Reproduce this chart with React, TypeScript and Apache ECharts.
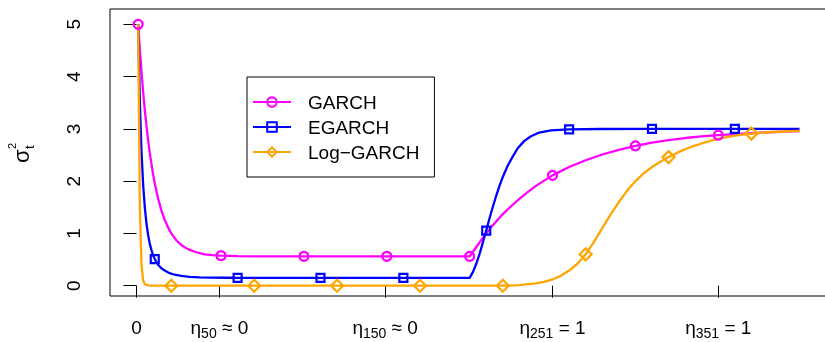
import React, { useEffect, useRef } from 'react';
import * as echarts from 'echarts';

// ---- data ----
const garchX = [1, 2, 3, 4, 5, 6, 7, 8, 9, 10, 11, 13, 15, 17, 19, 21, 24, 27, 31, 36, 41, 46, 51, 61, 81, 101, 151, 201, 203, 205, 207, 209, 211, 214, 217, 221, 226, 231, 236, 241, 246, 251, 261, 271, 281, 291, 301, 311, 321, 331, 341, 351, 366, 381, 400];
const garchY = [5.0, 4.52, 4.09, 3.71, 3.36, 3.06, 2.79, 2.54, 2.33, 2.13, 1.96, 1.67, 1.44, 1.26, 1.12, 1.0, 0.87, 0.78, 0.7, 0.64, 0.6, 0.585, 0.575, 0.565, 0.56, 0.56, 0.56, 0.56, 0.65, 0.74, 0.83, 0.92, 1.0, 1.12, 1.23, 1.37, 1.52, 1.66, 1.79, 1.91, 2.01, 2.11, 2.27, 2.4, 2.51, 2.6, 2.675, 2.735, 2.785, 2.825, 2.855, 2.88, 2.91, 2.935, 2.955];
const garchMarks = [1, 51, 101, 151, 201, 251, 301, 351];

const egarchX = [1, 2, 3, 4, 5, 6, 7, 8, 9, 10, 11, 13, 15, 17, 20, 23, 27, 32, 38, 45, 55, 61, 111, 161, 201, 203, 205, 207, 209, 211, 213, 215, 217, 219, 221, 224, 227, 230, 234, 238, 243, 250, 261, 280, 311, 361, 400];
const egarchY = [5.0, 3.52, 2.57, 1.93, 1.5, 1.19, 0.97, 0.8, 0.68, 0.58, 0.51, 0.4, 0.335, 0.29, 0.24, 0.21, 0.19, 0.17, 0.16, 0.155, 0.152, 0.15, 0.15, 0.15, 0.15, 0.265, 0.42, 0.61, 0.83, 1.055, 1.29, 1.51, 1.72, 1.91, 2.08, 2.3, 2.47, 2.63, 2.77, 2.86, 2.93, 2.97, 2.99, 2.998, 3.0, 3.0, 3.0];
const egarchMarks = [11, 61, 111, 161, 211, 261, 311, 361];

const logX = [1, 2, 3, 4, 5, 7, 10, 21, 71, 121, 171, 201, 221, 231, 236, 241, 246, 251, 256, 261, 266, 271, 276, 281, 286, 291, 296, 301, 306, 311, 316, 321, 326, 331, 336, 341, 346, 351, 361, 371, 381, 391, 400];
const logY = [5.0, 1.5, 0.4, 0.1, 0.03, 0.005, 0, 0, 0, 0, 0, 0, 0, 0.01, 0.03, 0.045, 0.075, 0.12, 0.19, 0.29, 0.42, 0.6, 0.84, 1.1, 1.36, 1.6, 1.82, 2.0, 2.15, 2.27, 2.37, 2.46, 2.54, 2.61, 2.67, 2.72, 2.77, 2.81, 2.87, 2.91, 2.935, 2.95, 2.96];
const logMarks = [21, 71, 121, 171, 221, 271, 321, 371];

const seriesNames = ['GARCH', 'EGARCH', 'Log\u2212GARCH'];
const seriesColors = ['#FF00FF', '#0000FF', '#FFA500'];

const xTickValues = [0, 50, 150, 251, 351];
const xTickSubs = ['', '50', '150', '251', '351'];
const xTickRel = ['0', '\u2248 0', '\u2248 0', '= 1', '= 1'];
const yTicks = [0, 1, 2, 3, 4, 5];

const FONT = '"Liberation Sans", Arial, Helvetica, sans-serif';

function buildData(xs: number[], ys: number[], marks: number[]) {
  return xs.map((x, i) =>
    marks.indexOf(x) >= 0 ? { value: [x, ys[i]] } : { value: [x, ys[i]], symbol: 'none' }
  );
}

export default function App() {
  const ref = useRef<HTMLDivElement>(null);
  useEffect(() => {
    const chart = echarts.init(ref.current as HTMLDivElement, null, { renderer: 'svg' });
    const mk = (idx: number, symbol: string, size: number, xs: number[], ys: number[], marks: number[]) => ({
      name: seriesNames[idx],
      type: 'line',
      data: buildData(xs, ys, marks),
      symbol,
      symbolSize: size,
      showSymbol: true,
      showAllSymbol: true,
      smooth: false,
      lineStyle: { color: seriesColors[idx], width: 2.3 },
      itemStyle: { color: 'rgba(255,255,255,0)', borderColor: seriesColors[idx], borderWidth: 2.2 },
      emphasis: { disabled: true },
    });
    chart.setOption({
      animation: false,
      textStyle: { fontFamily: FONT },
      grid: {
        left: 110, right: -1, top: 9, bottom: 46,
        outerBoundsMode: 'none',
        containLabel: false,
        show: true, borderColor: '#000', borderWidth: 1, backgroundColor: 'transparent',
      },
      legend: {
        orient: 'vertical',
        left: 247,
        top: 77,
        padding: [15, 15, 15, 5],
        itemGap: 5,
        itemWidth: 38,
        itemHeight: 12,
        borderColor: '#000',
        borderWidth: 1,
        selectedMode: false,
        data: seriesNames,
        textStyle: { fontFamily: FONT, fontSize: 19, color: '#000', lineHeight: 20, padding: [0, 0, 0, 12] },
      },
      xAxis: {
        type: 'value',
        min: -16,
        max: 416,
        axisLine: { show: false },
        splitLine: { show: false },
        axisTick: { show: true, customValues: xTickValues, length: 12, lineStyle: { color: '#000', width: 1 } },
        axisLabel: {
          customValues: xTickValues,
          margin: 18,
          color: '#000',
          formatter: (v: number) => {
            const i = xTickValues.indexOf(v);
            if (i < 0) return '';
            if (!xTickSubs[i]) return `{m|${xTickRel[i]}}`;
            return `{m|\u03b7}{s|${xTickSubs[i]}}{m| ${xTickRel[i]}}`;
          },
          rich: {
            m: { fontSize: 19, lineHeight: 26, fontFamily: FONT, color: '#000' },
            s: { fontSize: 14, lineHeight: 14, padding: [12, 0, 0, 0], fontFamily: FONT, color: '#000' },
          },
        },
      },
      yAxis: {
        type: 'value',
        min: -0.197,
        max: 5.293,
        axisLine: { show: false },
        splitLine: { show: false },
        axisTick: { show: true, customValues: yTicks, length: 13, lineStyle: { color: '#000', width: 1 } },
        axisLabel: { customValues: yTicks, rotate: 90, margin: 27, fontSize: 19, color: '#000', fontFamily: FONT },
      },
      graphic: [
        {
          type: 'group',
          x: 21,
          y: 163,
          rotation: Math.PI / 2,
          children: [
            { type: 'text', x: 0, y: 0, style: { text: '\u03c3', fontSize: 22, fontFamily: FONT, fill: '#000', align: 'left', verticalAlign: 'middle' } },
            { type: 'text', x: 14, y: -9, style: { text: '2', fontSize: 11, fontFamily: FONT, fill: '#000', align: 'left', verticalAlign: 'middle' } },
            { type: 'text', x: 14, y: 8, style: { text: 't', fontSize: 13, fontFamily: FONT, fill: '#000', align: 'left', verticalAlign: 'middle' } },
          ],
        },
      ],
      series: [
        mk(0, 'circle', 9, garchX, garchY, garchMarks),
        mk(1, 'rect', 8, egarchX, egarchY, egarchMarks),
        mk(2, 'diamond', 12, logX, logY, logMarks),
      ],
    });
    return () => chart.dispose();
  }, []);
  return <div ref={ref} style={{ position: 'fixed', left: 0, top: 0, width: 825, height: 342 }} />;
}
